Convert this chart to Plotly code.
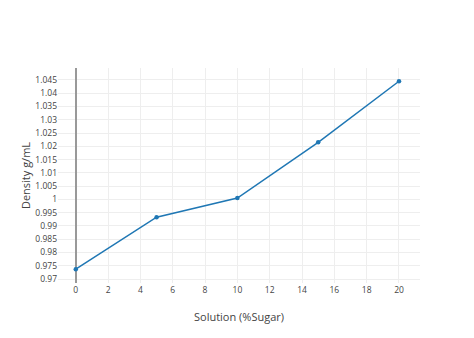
import plotly.graph_objects as go

sugar = [0, 5, 10, 15, 20]
density = [0.9737, 0.9933, 1.0005, 1.0215, 1.0445]
y_ticks = [0.97, 0.975, 0.98, 0.985, 0.99, 0.995, 1.0, 1.005, 1.01, 1.015, 1.02, 1.025, 1.03, 1.035, 1.04, 1.045]
y_labels = ["0.97", "0.975", "0.98", "0.985", "0.99", "0.995", "1", "1.005", "1.01", "1.015", "1.02", "1.025", "1.03", "1.035", "1.04", "1.045"]

fig = go.Figure(go.Scatter(
    x=sugar, y=density, mode="lines+markers",
    line=dict(color="#1f77b4", width=1.5),
    marker=dict(size=4.5, color="#1f77b4"),
))
fig.update_layout(
    width=474, height=338,
    margin=dict(l=58, r=54, t=68, b=55),
    paper_bgcolor="white", plot_bgcolor="white",
    font=dict(family="Open Sans", size=8.5, color="#444"),
    showlegend=False,
    xaxis=dict(
        title=dict(text="Solution (%Sugar)", font=dict(size=11), standoff=19),
        automargin=True,
        range=[-1.1, 21.3], dtick=2, tick0=0,
        showgrid=True, gridcolor="#eee",
        zeroline=True, zerolinecolor="#999", zerolinewidth=2,
    ),
    yaxis=dict(
        title=dict(text="Density g/mL", font=dict(size=11), standoff=2),
        automargin=True,
        range=[0.9685, 1.0495],
        tickvals=y_ticks, ticktext=y_labels,
        showgrid=True, gridcolor="#eee", zeroline=False,
    ),
)
fig.write_html("out.html")
